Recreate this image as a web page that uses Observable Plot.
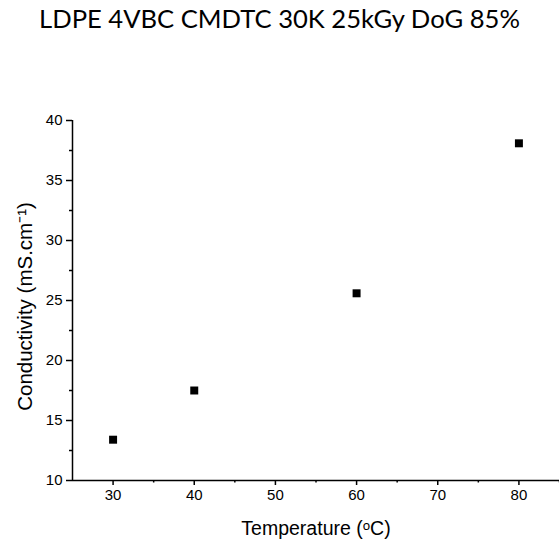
<!DOCTYPE html>
<html>
<head>
<meta charset="utf-8">
<script src="https://cdn.jsdelivr.net/npm/d3@7"></script>
<script src="https://cdn.jsdelivr.net/npm/@observablehq/plot@0.6"></script>
<style>
  html, body { margin: 0; padding: 0; background: #fff; }
  #title { height: 40px; width: 559px; text-align: center; font-family: Lato, "Open Sans", sans-serif; font-size: 25.6px; line-height: 36px; color: #000; white-space: nowrap; }
  svg { display: block; }
</style>
</head>
<body>
<div id="title">LDPE 4VBC CMDTC 30K 25kGy DoG 85%</div>
<div id="chart"></div>
<script>
const titleText = "LDPE 4VBC CMDTC 30K 25kGy DoG 85%";
const temperature = [30, 40, 60, 80];
const conductivity = [13.4, 17.5, 25.6, 38.1];
const xMajorTicks = [30, 40, 50, 60, 70, 80];
const xMinorTicks = [35, 45, 55, 65, 75, 85];
const yMajorTicks = [10, 15, 20, 25, 30, 35, 40];
const yMinorTicks = [12.5, 17.5, 22.5, 27.5, 32.5, 37.5];
const xLabel = "Temperature (ᵒC)";
const yLabel = "Conductivity (mS.cm⁻¹)";

document.getElementById("title").textContent = titleText;
const data = temperature.map((t, i) => ({t, c: conductivity[i]}));

const font = "Liberation Sans, Arial, sans-serif";
const chart = Plot.plot({
  width: 559,
  height: 504,
  marginTop: 80,
  marginBottom: 64,
  marginLeft: 72,
  marginRight: 0,
  style: {fontFamily: font, fontSize: "15px", color: "#000", background: "#fff"},
  x: {domain: [25, 85]},
  y: {domain: [10, 40]},
  marks: [
    Plot.axisX({ticks: xMajorTicks, tickSize: 5, tickPadding: 4, label: null, fontSize: 15, strokeWidth: 1.5}),
    Plot.axisX({ticks: xMinorTicks, tickSize: 2.5, label: null, text: null, strokeWidth: 1.5}),
    Plot.axisY({ticks: yMajorTicks, tickSize: 6, tickPadding: 4, label: null, fontSize: 15, strokeWidth: 1.5}),
    Plot.axisY({ticks: yMinorTicks, tickSize: 3, label: null, text: null, strokeWidth: 1.5}),
    Plot.ruleX([25], {y1: 10, y2: 40, stroke: "#000", strokeWidth: 1.5}),
    Plot.ruleY([10], {x1: 25, x2: 85, stroke: "#000", strokeWidth: 1.5}),
    Plot.dot(data, {x: "t", y: "c", symbol: "square", r: 4.5, fill: "#000", stroke: null}),
    Plot.text([xLabel], {frameAnchor: "bottom", dy: 48, lineAnchor: "middle", textAnchor: "middle", fontSize: 19.5, fontFamily: font}),
    Plot.text([yLabel], {frameAnchor: "left", dx: -47, dy: 6, rotate: -90, lineAnchor: "middle", textAnchor: "middle", fontSize: 20.5, fontFamily: font})
  ]
});
document.getElementById("chart").appendChild(chart);
</script>
</body>
</html>
